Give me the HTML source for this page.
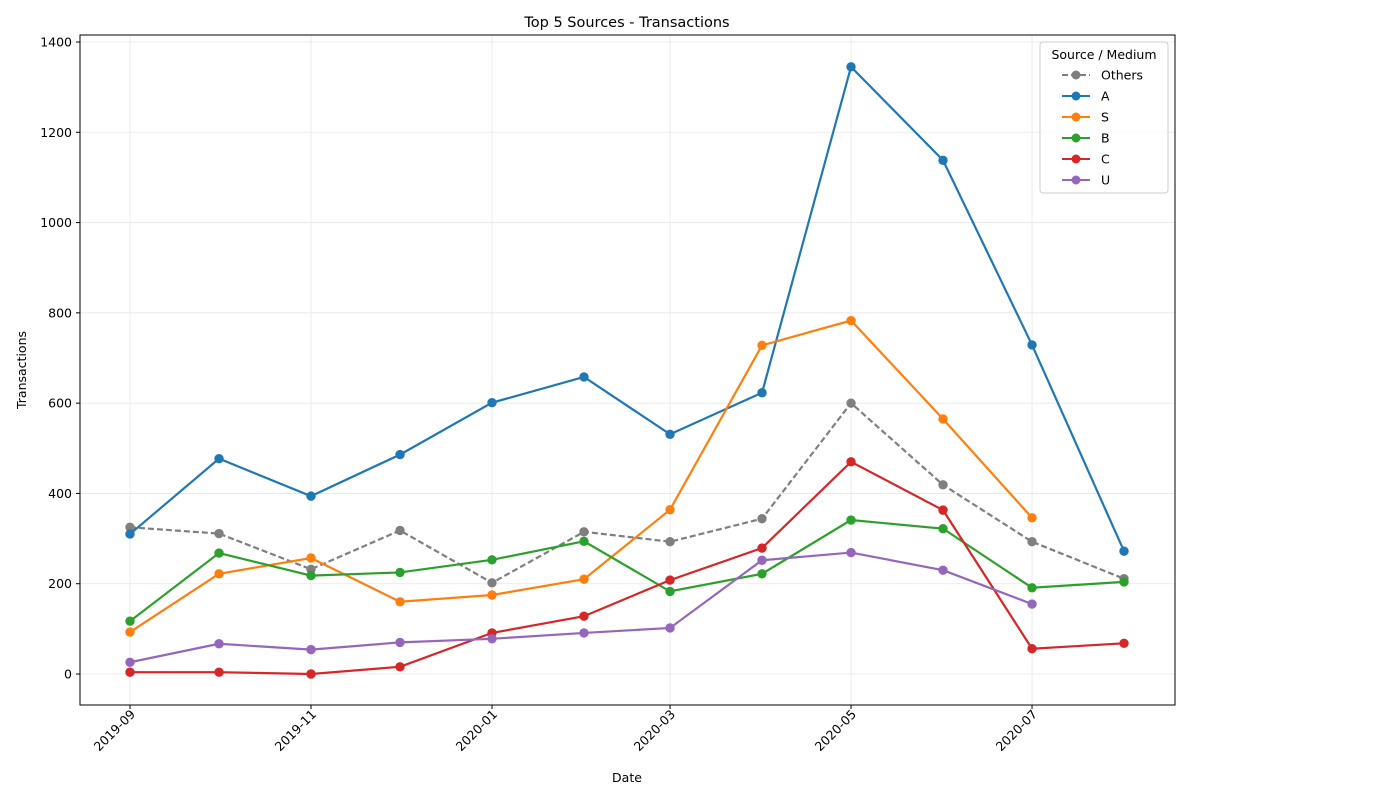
<!DOCTYPE html>
<html><head><meta charset="utf-8"><style>
body{margin:0;background:#fff;font-family:"Liberation Sans","DejaVu Sans",sans-serif}
svg text{font-family:"DejaVu Sans","Liberation Sans",sans-serif}
</style></head><body>
<svg id="c" width="1400" height="800" xmlns="http://www.w3.org/2000/svg"></svg>
<script>
const dates=["2019-09-01","2019-10-01","2019-11-01","2019-12-01","2020-01-01","2020-02-01","2020-03-01","2020-04-01","2020-05-01","2020-06-01","2020-07-01","2020-08-01"];
const others=[325,311,232,318,202,315,293,344,600,419,293,211];
const seriesA=[310,477,394,486,601,658,531,623,1345,1138,729,272];
const seriesS=[93,222,257,160,175,210,364,728,783,565,346];
const seriesB=[117,268,218,225,253,294,183,222,341,322,191,204];
const seriesC=[4,4,0,16,91,128,208,279,470,363,56,68];
const seriesU=[26,67,54,70,78,91,102,252,269,230,155];
const yTicks=[0,200,400,600,800,1000,1200,1400];
const xTicks=["2019-09","2019-11","2020-01","2020-03","2020-05","2020-07"];
const names=["Others","A","S","B","C","U"];
const colors=["#7f7f7f","#1f77b4","#ff7f0e","#2ca02c","#d62728","#9467bd"];
const all=[others,seriesA,seriesS,seriesB,seriesC,seriesU];

const NS="http://www.w3.org/2000/svg",svg=document.getElementById('c');
const L=80,R=1175,T=35,B=705;
const t0=Date.parse("2019-09-01");
const x=d=>130+(Date.parse(d)-t0)/86400000*(181/61);
const y=v=>674-v*(632/1400);
function el(tag,attrs,txt){const e=document.createElementNS(NS,tag);for(const k in attrs)e.setAttribute(k,attrs[k]);if(txt!=null)e.textContent=txt;svg.appendChild(e);return e;}

yTicks.forEach(v=>{
 const g=el('line',{x1:L,x2:R,y1:y(v),y2:y(v),stroke:'#e6e6e6','stroke-width':0.8});
 
 const tk=el('line',{x1:L-4,x2:L,y1:y(v),y2:y(v),stroke:'#000'});
 
 const t=el('text',{x:L-8,y:y(v)+4.5,'text-anchor':'end','font-size':12.5},v);
 
});
xTicks.forEach(d=>{
 const px=x(d+"-01");
 const g=el('line',{x1:px,x2:px,y1:T,y2:B,stroke:'#e6e6e6','stroke-width':0.8});
 
 const tk=el('line',{x1:px,x2:px,y1:B,y2:B+4,stroke:'#000'});
 
 const t=el('text',{x:px+6,y:B+10,'text-anchor':'end','font-size':12.5,transform:`rotate(-45 ${px+6} ${B+10})`},d);
 
});
const fr=el('rect',{x:L,y:T,width:R-L,height:B-T,fill:'none',stroke:'#000','stroke-width':1});


all.forEach((s,i)=>{
 const pts=s.map((v,j)=>x(dates[j])+","+y(v)).join(" ");
 const pl=el('polyline',{points:pts,fill:'none',stroke:colors[i],'stroke-width':2.2,'stroke-dasharray':i==0?'6,3':'none'});
 
 s.forEach((v,j)=>{
  const c=el('circle',{cx:x(dates[j]),cy:y(v),r:4.7,fill:colors[i]});
  
 });
});

let t=el('text',{x:627,y:27,'text-anchor':'middle','font-size':14.5},'Top 5 Sources - Transactions');

t=el('text',{x:627,y:782,'text-anchor':'middle','font-size':12.5},'Date');

t=el('text',{x:26,y:370,'text-anchor':'middle','font-size':12.5,transform:'rotate(-90 26 370)'},'Transactions');


const lg=el('rect',{x:1040,y:42,width:128,height:151,rx:3,fill:'#fff','fill-opacity':0.8,stroke:'#ccc'});

t=el('text',{x:1104,y:59,'text-anchor':'middle','font-size':12.5},'Source / Medium');

names.forEach((n,i)=>{
 const yy=75+i*21;
 const ln=el('line',{x1:1062,x2:1090,y1:yy,y2:yy,stroke:colors[i],'stroke-width':2,'stroke-dasharray':i==0?'6,3':'none'});
 
 const c=el('circle',{cx:1076,cy:yy,r:4.5,fill:colors[i]});
 
 const tx=el('text',{x:1101,y:yy+4.5,'font-size':12.5},n);
 
});
</script>
</body></html>
